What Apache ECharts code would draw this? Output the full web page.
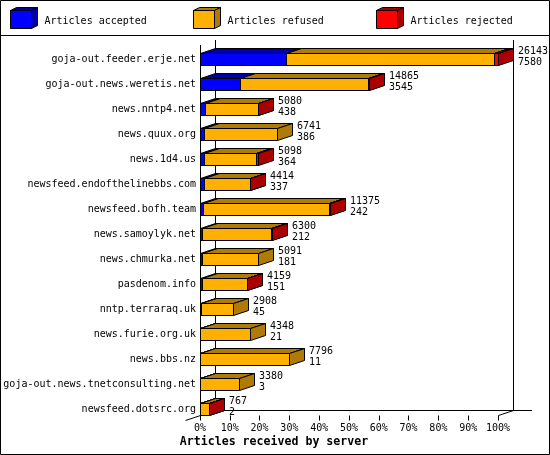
<!DOCTYPE html>
<html><head><meta charset="utf-8">
<style>html,body{margin:0;padding:0;background:#fff}#c{width:550px;height:455px}</style>
<script src="https://cdn.jsdelivr.net/npm/echarts@6/dist/echarts.min.js"></script>
</head><body><div id="c"></div>
<script>
const categories = ["goja-out.feeder.erje.net","goja-out.news.weretis.net","news.nntp4.net","news.quux.org","news.1d4.us","newsfeed.endofthelinebbs.com","newsfeed.bofh.team","news.samoylyk.net","news.chmurka.net","pasdenom.info","nntp.terraraq.uk","news.furie.org.uk","news.bbs.nz","goja-out.news.tnetconsulting.net","newsfeed.dotsrc.org"];
const totals   = [26143,14865,5080,6741,5098,4414,11375,6300,5091,4159,2908,4348,7796,3380,767];
const accepted = [7580,3545,438,386,364,337,242,212,181,151,45,21,11,3,2];
const refused  = [18253,11190,4612,6355,4514,4047,11103,6058,4910,3978,2863,4327,7785,3377,745];
const rejected = [310,130,30,0,220,30,30,30,0,30,0,0,0,0,20];
const xTicks = {min:0,max:100,interval:10};
const seriesNames = ["Articles accepted","Articles refused","Articles rejected"];
const fronts = ["#0000FF","#FFB000","#FF0000"];
const darks  = ["#0000AA","#AE7A08","#AA0000"];
const FONT = '"DejaVu Sans Mono", monospace';
const DX=15, DY=5, BH=12;
const maxT = Math.max(...totals);
const pct = v => v/maxT*100;
const crisp = v => Math.round(v)+0.5;
const line = {stroke:'#000',lineWidth:1};

function poly(pts, fill){ return {type:'polygon',shape:{points:pts},style:{fill,stroke:'#000',lineWidth:1}}; }

function cuboid(x0,x1,yc,k){
  const a=crisp(x0), b=crisp(x1), t=Math.round(yc-BH/2)+0.5, f=t+BH;
  return [
    poly([[a,t],[a+DX,t-DY],[b+DX,t-DY],[b,t]],darks[k]),
    poly([[b,t],[b+DX,t-DY],[b+DX,f-DY],[b,f]],darks[k]),
    poly([[a,t],[b,t],[b,f],[a,f]],fronts[k])
  ];
}
function segSeries(k, vals){
  const starts = vals.map((_,i)=>{let s=0;[accepted,refused,rejected].slice(0,k).forEach(a=>s+=a[i]);return s;});
  return {
    type:'custom',name:seriesNames[k],silent:true,clip:false,z:3+k,
    data:vals.map((v,i)=>[pct(starts[i]),i,pct(starts[i]+v)]),
    encode:{x:[0,2],y:1},
    renderItem(p,api){
      const i=api.value(1);
      if(vals[i]===0) return null;
      const s=api.coord([api.value(0),i]), e=api.coord([api.value(2),i]);
      return {type:'group',children:cuboid(s[0],e[0],s[1],k)};
    }
  };
}
const labelSeries = {
  type:'custom',name:'labels',silent:true,clip:false,z:7,
  data:totals.map((t,i)=>[pct(t),i]),
  encode:{x:0,y:1},
  renderItem(p,api){
    const i=api.value(1), c=api.coord([api.value(0),i]);
    const mk=(txt,dy)=>({type:'text',style:{text:String(txt),x:Math.round(c[0])+DX+5,y:c[1]+dy,font:'10px '+FONT,fill:'#000',textVerticalAlign:'middle'}});
    return {type:'group',children:[mk(totals[i],-8),mk(accepted[i],3)]};
  }
};

const L=200,R=498,BOT=415,TOP=45;
const g=[];
const seg=(x1,y1,x2,y2)=>g.push({type:'line',z:1,silent:true,shape:{x1,y1,x2,y2},style:line});
g.push({type:'rect',z:1,silent:true,shape:{x:0.5,y:0.5,width:549,height:454},style:{fill:null,stroke:'#000',lineWidth:1}});
seg(0,35.5,550,35.5);
seg(L+.5,TOP,L+.5,BOT+.5);
seg(L+DX+.5,TOP-DY,L+DX+.5,BOT-DY+.5);
seg(R+DX+.5,TOP-DY,R+DX+.5,BOT-DY+.5);
seg(L+DX,BOT-DY+.5,532,BOT-DY+.5);
seg(L+.5,BOT+.5,L-DX+.5,BOT+5.5);
seg(R+.5,BOT+.5,R+DX+.5,BOT-DY+.5);
seriesNames.forEach((n,k)=>{
  const x=10.5+183*k, y=10.5, w=21, h=18, dx=6, dy=3;
  g.push({type:'polygon',z:1,silent:true,shape:{points:[[x,y],[x+dx,y-dy],[x+w+dx,y-dy],[x+w,y]]},style:{fill:darks[k],stroke:'#000'}});
  g.push({type:'polygon',z:1,silent:true,shape:{points:[[x+w,y],[x+w+dx,y-dy],[x+w+dx,y+h-dy],[x+w,y+h]]},style:{fill:darks[k],stroke:'#000'}});
  g.push({type:'rect',z:1,silent:true,shape:{x,y,width:w,height:h},style:{fill:fronts[k],stroke:'#000'}});
  g.push({type:'text',z:1,silent:true,style:{text:n,x:44.5+183*k,y:21,font:'10px '+FONT,fill:'#000',textVerticalAlign:'middle'}});
});
g.push({type:'text',z:1,silent:true,style:{text:'Articles received by server',x:274,y:442,font:'bold 11.6px '+FONT,fill:'#000',textAlign:'center',textVerticalAlign:'middle'}});

const chart=echarts.init(document.getElementById('c'),null,{renderer:'canvas'});
chart.setOption({
  animation:false,
  backgroundColor:'#fff',
  grid:{left:L,right:550-R,top:46.5,height:375},
  xAxis:{type:'value',min:xTicks.min,max:xTicks.max,interval:xTicks.interval,offset:-6,
    axisLine:{show:false},splitLine:{show:false},
    axisTick:{show:true,length:5,lineStyle:{color:'#000',width:1}},
    axisLabel:{formatter:'{value}%',fontFamily:'DejaVu Sans Mono',fontSize:10,color:'#000',margin:8,hideOverlap:false,showMinLabel:true,showMaxLabel:true}},
  yAxis:{type:'category',data:categories,inverse:true,
    axisLine:{show:false},axisTick:{show:false},splitLine:{show:false},
    axisLabel:{interval:0,fontFamily:'DejaVu Sans Mono',fontSize:10,color:'#000',margin:4,padding:[2,0,0,0]}},
  graphic:g,
  series:[segSeries(0,accepted),segSeries(1,refused),segSeries(2,rejected),labelSeries]
});
</script></body></html>
